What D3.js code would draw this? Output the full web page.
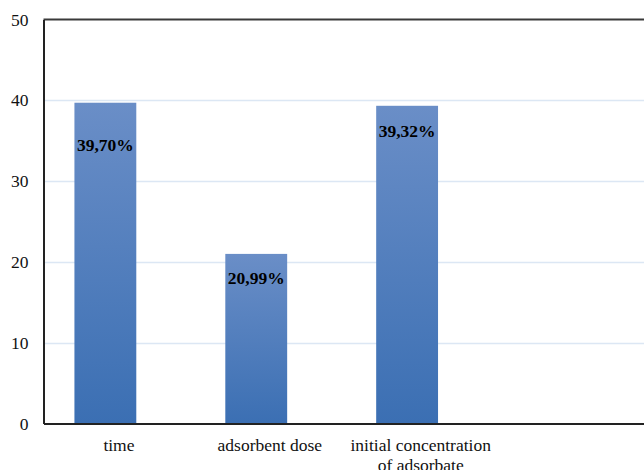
<!DOCTYPE html>
<html><head><meta charset="utf-8"><script src="https://cdn.jsdelivr.net/npm/d3@7"></script></head>
<body style="margin:0">
<svg id="chart" width="644" height="470" style="font-family: 'Liberation Serif', serif"></svg>
<script>
// Contribution of each factor (%)
const categories = ["time", "adsorbent dose", "initial concentration\nof adsorbate", ""];
const values = [39.70, 20.99, 39.32, null];
const valueLabels = ["39,70%", "20,99%", "39,32%", null];
const yTicks = [0, 10, 20, 30, 40, 50];
// distance of each value label's baseline below its bar top (px)
const labelDrop = [48, 30, 31, 0];

const FONT = "'Liberation Serif', serif";

const svg = d3.select("#chart");
const margin = { left: 43.5, top: 19.5, right: -3, bottom: 46.5 };
const W = 644, H = 470;

const x = d3.scaleBand()
  .domain(d3.range(categories.length))
  .range([margin.left, W - margin.right])
  .padding(0);

const y = d3.scaleLinear()
  .domain([0, 50])
  .range([H - margin.bottom, margin.top]);

// bar gradient: lighter at the top, deeper blue at the base
const defs = svg.append("defs");
const grad = defs.append("linearGradient")
  .attr("id", "barGrad")
  .attr("x1", 0).attr("y1", 0).attr("x2", 0).attr("y2", 1);
grad.append("stop").attr("offset", "0%").attr("stop-color", "#6a8ec7");
grad.append("stop").attr("offset", "100%").attr("stop-color", "#3b6fb3");

// horizontal gridlines
svg.append("g")
  .selectAll("line")
  .data(yTicks.filter(t => t > 0 && t < 50))
  .join("line")
  .attr("x1", margin.left)
  .attr("x2", W)
  .attr("y1", d => Math.round(y(d)) + 0.5)
  .attr("y2", d => Math.round(y(d)) + 0.5)
  .attr("stroke", "#dce7f4")
  .attr("stroke-width", 1.6);

// top border of the plot area
svg.append("line")
  .attr("x1", margin.left).attr("x2", W)
  .attr("y1", y(50)).attr("y2", y(50))
  .attr("stroke", "#3a3a3a")
  .attr("stroke-width", 2);

// bars
const barOffset = 0.205, barWidth = 0.41;
const idx = d3.range(categories.length).filter(i => values[i] != null);

svg.append("g")
  .selectAll("rect")
  .data(idx)
  .join("rect")
  .attr("x", i => x(i) + x.bandwidth() * barOffset)
  .attr("width", x.bandwidth() * barWidth)
  .attr("y", i => y(values[i]))
  .attr("height", i => y(0) - y(values[i]))
  .attr("fill", "url(#barGrad)");

// value labels
svg.append("g")
  .selectAll("text")
  .data(idx)
  .join("text")
  .attr("x", i => x(i) + x.bandwidth() * (barOffset + barWidth / 2))
  .attr("y", i => y(values[i]) + labelDrop[i])
  .attr("text-anchor", "middle")
  .style("font-family", FONT)
  .style("font-size", "17.5px")
  .style("font-weight", "bold")
  .text(i => valueLabels[i]);

// y axis
const yAxis = d3.axisLeft(y).tickValues(yTicks).tickSize(0).tickPadding(15).tickFormat(d3.format("d"));
const yg = svg.append("g")
  .attr("transform", `translate(${margin.left},0)`)
  .call(yAxis)
  .attr("font-family", null)
  .attr("font-size", null);
yg.select(".domain").attr("stroke", "#222").attr("stroke-width", 2);
yg.selectAll("text")
  .style("font-family", FONT)
  .style("font-size", "17.5px")
  .attr("fill", "#111");

// x axis baseline
const xAxis = d3.axisBottom(x).tickSize(0).tickFormat(() => "");
const xg = svg.append("g")
  .attr("transform", `translate(0,${y(0)})`)
  .call(xAxis);
xg.selectAll(".tick").remove();
xg.select(".domain").attr("stroke", "#222").attr("stroke-width", 2);

// category labels (multi-line)
svg.append("g")
  .selectAll("text")
  .data(d3.range(categories.length))
  .join("text")
  .attr("text-anchor", "middle")
  .attr("fill", "#111")
  .style("font-family", FONT)
  .style("font-size", "17.5px")
  .attr("transform", i => `translate(${x(i) + x.bandwidth() / 2},${y(0) + 27.5})`)
  .each(function (i) {
    const lines = categories[i].split("\n");
    d3.select(this).selectAll("tspan")
      .data(lines)
      .join("tspan")
      .attr("x", 0)
      .attr("dy", (d, k) => k === 0 ? 0 : 19.5)
      .text(d => d);
  });
</script>
</body>
</html>
